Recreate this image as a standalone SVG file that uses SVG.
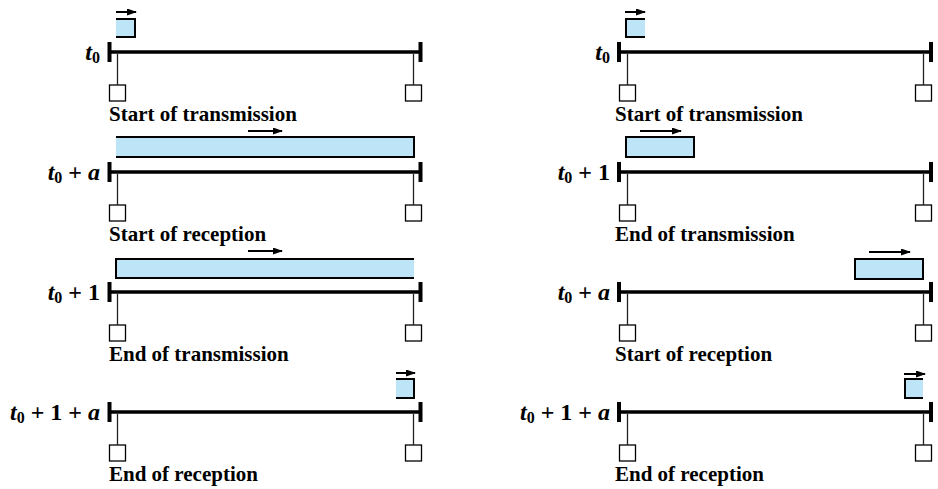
<svg xmlns="http://www.w3.org/2000/svg" width="938" height="489" viewBox="0 0 938 489">
<defs>
<style>
.bus{stroke:#000;stroke-width:3.5;fill:none}
.cap{fill:#000}
.stem{stroke:#222;stroke-width:1.3;fill:none}
.stn{fill:#fff;stroke:#000;stroke-width:1.3}
.pf{fill:#bde5f7;stroke:none}
.pe{fill:none;stroke:#000;stroke-width:2}
.pk{fill:#bde5f7;stroke:#000;stroke-width:2}
.arr{stroke:#000;stroke-width:2;fill:none;marker-end:url(#ah)}
.lbl{font-family:"Liberation Serif","Times New Roman",serif;font-weight:bold;font-size:21px;fill:#000}
.tl{font-family:"Liberation Serif","Times New Roman",serif;font-weight:bold;font-size:24px;fill:#000;text-anchor:end}
.it{font-style:italic}
.sub{font-size:16px}
</style>
<marker id="ah" markerUnits="userSpaceOnUse" markerWidth="10" markerHeight="7" refX="9" refY="3.5" orient="auto">
<path d="M0,0 L10,3.5 L0,7 z" fill="#000"/>
</marker>
</defs>

<!-- LEFT COLUMN -->
<g id="L1">
<line class="bus" x1="109" y1="52" x2="421" y2="52"/>
<rect class="cap" x="107.5" y="42" width="4" height="20"/>
<rect class="cap" x="418.5" y="42" width="4" height="20"/>
<rect class="stn" x="109.5" y="85" width="16" height="16"/>
<rect class="stn" x="405.5" y="85" width="16" height="16"/>
<text class="tl" x="100" y="60"><tspan class="it">t</tspan><tspan class="sub" dy="3">0</tspan></text>
<text class="lbl" x="109" y="121">Start of transmission</text>
<rect class="pf" x="116" y="19" width="19" height="18"/>
<path class="pe" d="M116,19 H135 V37 H116"/>
</g>

<g id="L2">
<line class="bus" x1="109" y1="172" x2="421" y2="172"/>
<rect class="cap" x="107.5" y="162" width="4" height="20"/>
<rect class="cap" x="418.5" y="162" width="4" height="20"/>
<rect class="stn" x="109.5" y="205" width="16" height="16"/>
<rect class="stn" x="405.5" y="205" width="16" height="16"/>
<text class="tl" x="100" y="180" xml:space="preserve"><tspan class="it">t</tspan><tspan class="sub" dy="3">0</tspan><tspan dy="-3"> + </tspan><tspan class="it">a</tspan></text>
<text class="lbl" x="109" y="241">Start of reception</text>
<rect class="pf" x="116" y="137" width="298" height="20"/>
<path class="pe" d="M116,137 H414 V157 H116"/>
</g>

<g id="L3">
<line class="bus" x1="109" y1="292" x2="421" y2="292"/>
<rect class="cap" x="107.5" y="282" width="4" height="20"/>
<rect class="cap" x="418.5" y="282" width="4" height="20"/>
<rect class="stn" x="109.5" y="325" width="16" height="16"/>
<rect class="stn" x="405.5" y="325" width="16" height="16"/>
<text class="tl" x="100" y="300" xml:space="preserve"><tspan class="it">t</tspan><tspan class="sub" dy="3">0</tspan><tspan dy="-3"> + 1</tspan></text>
<text class="lbl" x="109" y="361">End of transmission</text>
<rect class="pf" x="116" y="259" width="298" height="19"/>
<path class="pe" d="M414,259 H116 V278 H414"/>
</g>

<g id="L4">
<line class="bus" x1="109" y1="412" x2="421" y2="412"/>
<rect class="cap" x="107.5" y="402" width="4" height="20"/>
<rect class="cap" x="418.5" y="402" width="4" height="20"/>
<rect class="stn" x="109.5" y="445" width="16" height="16"/>
<rect class="stn" x="405.5" y="445" width="16" height="16"/>
<text class="tl" x="100" y="420" xml:space="preserve"><tspan class="it">t</tspan><tspan class="sub" dy="3">0</tspan><tspan dy="-3"> + 1 + </tspan><tspan class="it">a</tspan></text>
<text class="lbl" x="109" y="481">End of reception</text>
<rect class="pf" x="396" y="379" width="18" height="19"/>
<path class="pe" d="M396,379 H414 V398 H396"/>
</g>

<!-- RIGHT COLUMN -->
<g id="R1">
<line class="bus" x1="619" y1="52" x2="931" y2="52"/>
<rect class="cap" x="617" y="42" width="4" height="20"/>
<rect class="cap" x="929" y="42" width="4" height="20"/>
<rect class="stn" x="619.5" y="85" width="16" height="16"/>
<rect class="stn" x="915.5" y="85" width="16" height="16"/>
<text class="tl" x="610" y="60"><tspan class="it">t</tspan><tspan class="sub" dy="3">0</tspan></text>
<text class="lbl" x="615" y="121">Start of transmission</text>
<rect class="pf" x="625" y="19" width="20" height="18"/>
<path class="pe" d="M645,19 H626 V37 H645"/>
</g>

<g id="R2">
<line class="bus" x1="619" y1="172" x2="931" y2="172"/>
<rect class="cap" x="617" y="162" width="4" height="20"/>
<rect class="cap" x="929" y="162" width="4" height="20"/>
<rect class="stn" x="619.5" y="205" width="16" height="16"/>
<rect class="stn" x="915.5" y="205" width="16" height="16"/>
<text class="tl" x="610" y="180" xml:space="preserve"><tspan class="it">t</tspan><tspan class="sub" dy="3">0</tspan><tspan dy="-3"> + 1</tspan></text>
<text class="lbl" x="615" y="241">End of transmission</text>
<rect class="pk" x="626" y="137" width="68" height="20"/>
</g>

<g id="R3">
<line class="bus" x1="619" y1="292" x2="931" y2="292"/>
<rect class="cap" x="617" y="282" width="4" height="20"/>
<rect class="cap" x="929" y="282" width="4" height="20"/>
<rect class="stn" x="619.5" y="325" width="16" height="16"/>
<rect class="stn" x="915.5" y="325" width="16" height="16"/>
<text class="tl" x="610" y="300" xml:space="preserve"><tspan class="it">t</tspan><tspan class="sub" dy="3">0</tspan><tspan dy="-3"> + </tspan><tspan class="it">a</tspan></text>
<text class="lbl" x="615" y="361">Start of reception</text>
<rect class="pk" x="855" y="259" width="68" height="20"/>
</g>

<g id="R4">
<line class="bus" x1="619" y1="412" x2="931" y2="412"/>
<rect class="cap" x="617" y="402" width="4" height="20"/>
<rect class="cap" x="929" y="402" width="4" height="20"/>
<rect class="stn" x="619.5" y="445" width="16" height="16"/>
<rect class="stn" x="915.5" y="445" width="16" height="16"/>
<text class="tl" x="610" y="420" xml:space="preserve"><tspan class="it">t</tspan><tspan class="sub" dy="3">0</tspan><tspan dy="-3"> + 1 + </tspan><tspan class="it">a</tspan></text>
<text class="lbl" x="615" y="481">End of reception</text>
<rect class="pf" x="905" y="379" width="18" height="19"/>
<path class="pe" d="M923,379 H905 V398 H923"/>
</g>

<g id="connectors">
<!-- station drops -->
<path class="stem" d="M117.5,54 V85 M413.5,54 V85 M117.5,174 V205 M413.5,174 V205 M117.5,294 V325 M413.5,294 V325 M117.5,414 V445 M413.5,414 V445"/>
<path class="stem" d="M627.5,54 V85 M923.5,54 V85 M627.5,174 V205 M923.5,174 V205 M627.5,294 V325 M923.5,294 V325 M627.5,414 V445 M923.5,414 V445"/>
<!-- direction arrows -->
<line class="arr" x1="116" y1="12" x2="136" y2="12"/>
<line class="arr" x1="248" y1="131" x2="282" y2="131"/>
<line class="arr" x1="248" y1="251" x2="282" y2="251"/>
<line class="arr" x1="396" y1="373" x2="415" y2="373"/>
<line class="arr" x1="625" y1="12" x2="645" y2="12"/>
<line class="arr" x1="640" y1="131" x2="681" y2="131"/>
<line class="arr" x1="869" y1="252" x2="910" y2="252"/>
<line class="arr" x1="904" y1="374" x2="925" y2="374"/>
</g>
</svg>
